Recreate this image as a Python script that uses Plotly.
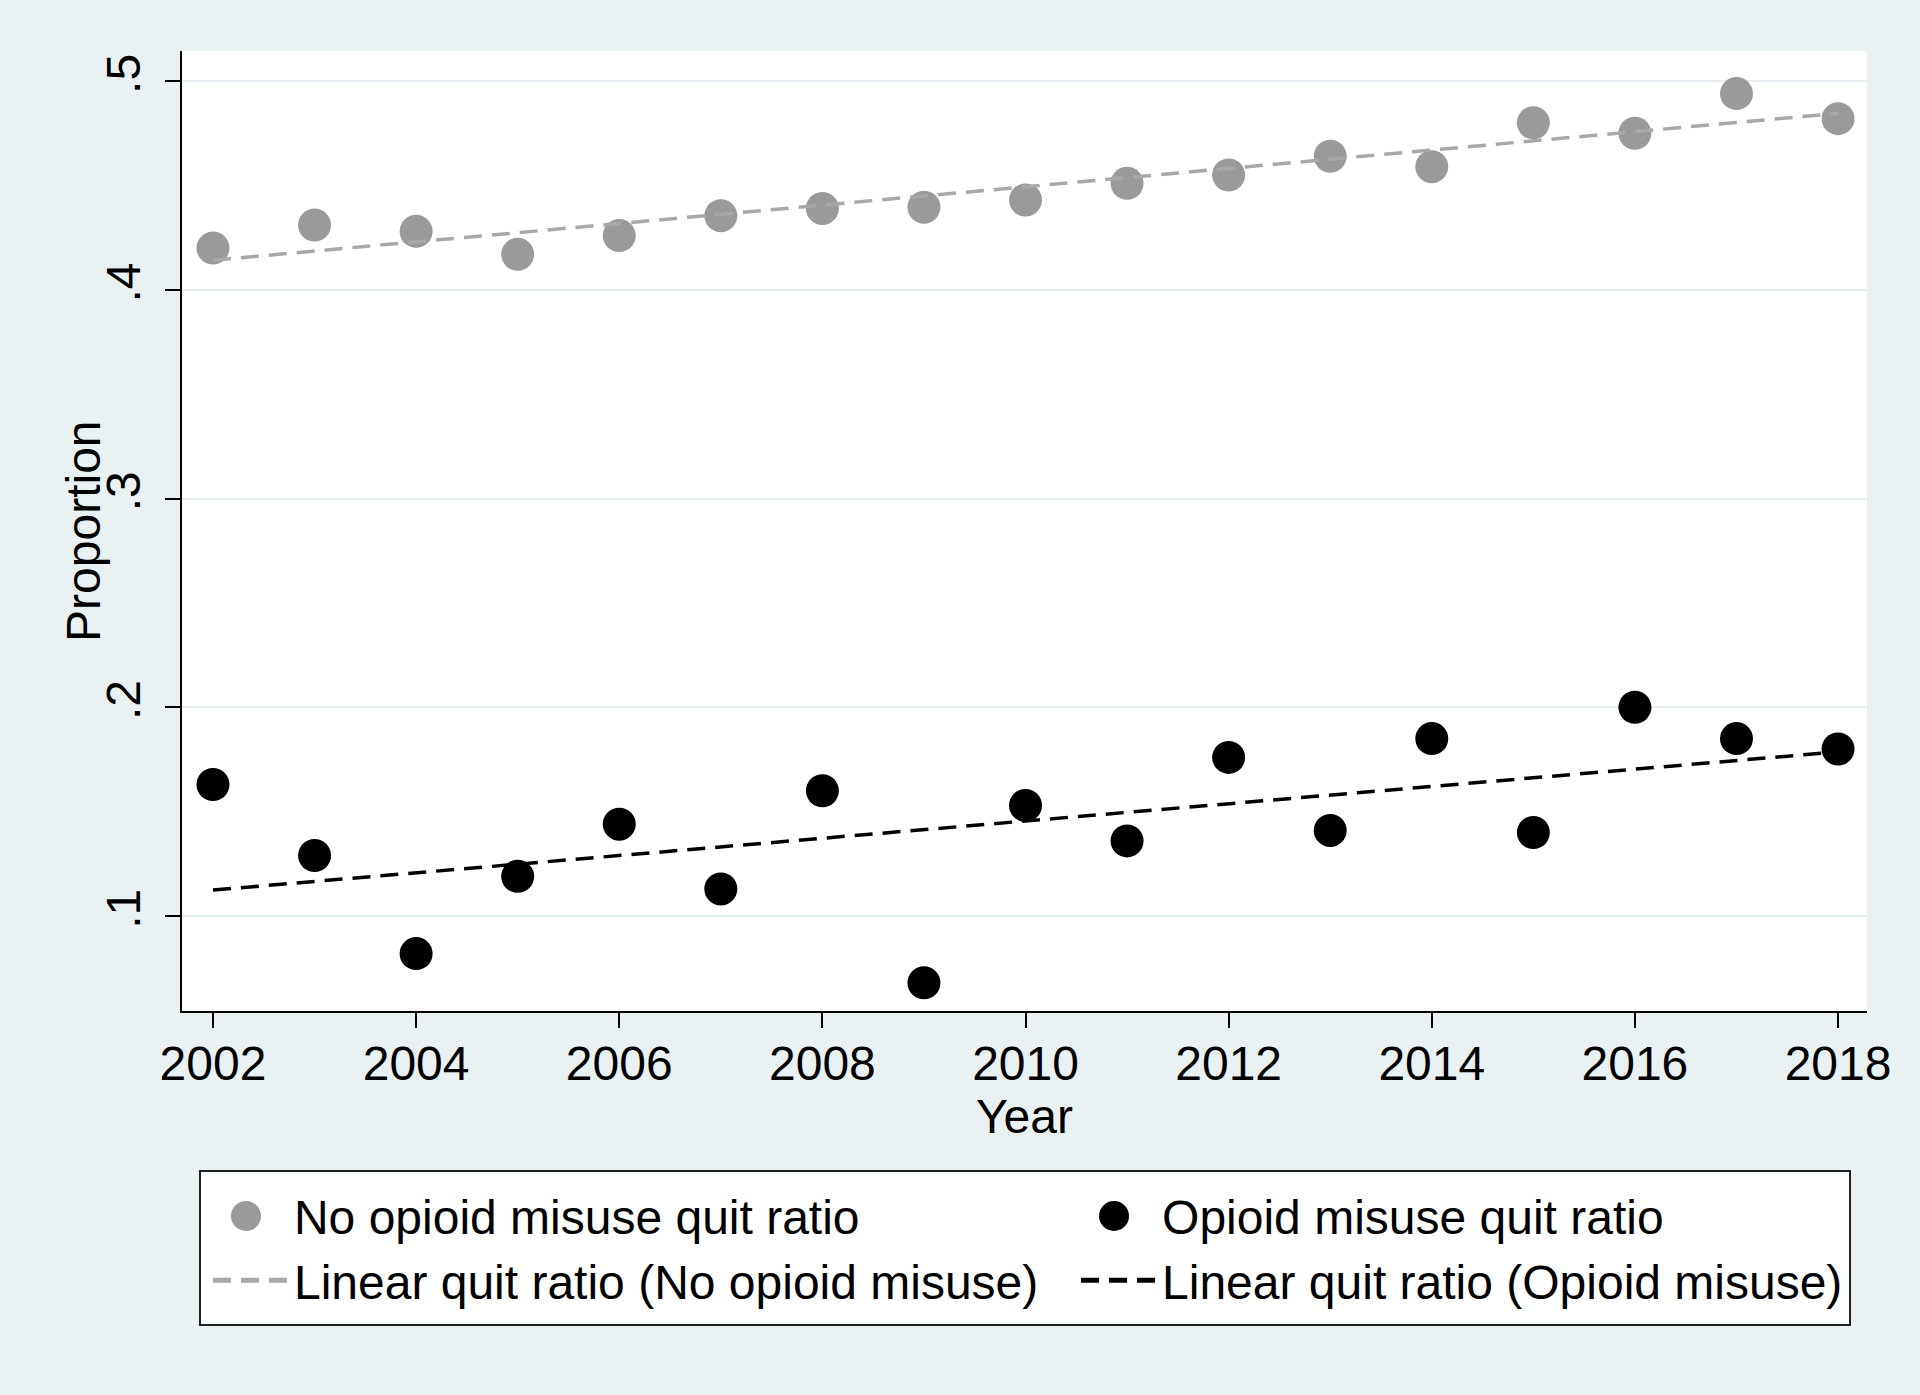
import numpy as np
import plotly.graph_objects as go

years = [2002, 2003, 2004, 2005, 2006, 2007, 2008, 2009, 2010,
         2011, 2012, 2013, 2014, 2015, 2016, 2017, 2018]
no_opioid = [0.420, 0.431, 0.428, 0.417, 0.426, 0.4355, 0.439, 0.4396, 0.443,
             0.451, 0.455, 0.464, 0.459, 0.480, 0.475, 0.494, 0.482]
opioid = [0.163, 0.129, 0.082, 0.119, 0.144, 0.113, 0.160, 0.068, 0.153,
          0.136, 0.176, 0.141, 0.185, 0.140, 0.200, 0.185, 0.180]
x_ticks = [2002, 2004, 2006, 2008, 2010, 2012, 2014, 2016, 2018]
y_ticks = [0.1, 0.2, 0.3, 0.4, 0.5]
y_ticktext = [".1", ".2", ".3", ".4", ".5"]

x = np.array(years, dtype=float)
fit_no = np.polyval(np.polyfit(x, no_opioid, 1), x)
fit_op = np.polyval(np.polyfit(x, opioid, 1), x)

GRAY = "#9a9a9a"
BG = "#e9f1f3"
FONT = "Liberation Sans, Arial, Helvetica, sans-serif"

fig = go.Figure()
fig.add_trace(go.Scatter(x=years, y=no_opioid, mode="markers",
                         name="No opioid misuse quit ratio", legend="legend",
                         marker=dict(color=GRAY, size=33)))
fig.add_trace(go.Scatter(x=years, y=opioid, mode="markers",
                         name="Opioid misuse quit ratio", legend="legend2",
                         marker=dict(color="black", size=33)))
fig.add_trace(go.Scatter(x=years, y=fit_no, mode="lines",
                         name="Linear quit ratio (No opioid misuse)", legend="legend",
                         line=dict(color="#a8a8a8", width=3.5, dash="18px,10px")))
fig.add_trace(go.Scatter(x=years, y=fit_op, mode="lines",
                         name="Linear quit ratio (Opioid misuse)", legend="legend2",
                         line=dict(color="black", width=3.5, dash="18px,10px")))

legend_common = dict(
    orientation="v", yanchor="top", xanchor="left",
    bgcolor="rgba(0,0,0,0)", borderwidth=0,
    font=dict(family=FONT, size=48, color="black"),
    itemwidth=76, indentation=0, traceorder="normal",
    itemsizing="constant",
)

def legend_dot(cx, cy, color):
    # enlarged legend symbol (plotly caps legend marker size)
    return dict(type="circle", xref="paper", yref="paper",
                xsizemode="pixel", ysizemode="pixel",
                xanchor=(cx - 182) / 1685, yanchor=(1011 - cy) / 960,
                x0=-15, x1=15, y0=-15, y1=15,
                fillcolor=color, line=dict(width=0), layer="above")

fig.update_layout(
    width=1920, height=1395, autosize=False,
    margin=dict(l=182, r=53, t=51, b=384, autoexpand=False),
    paper_bgcolor=BG,
    plot_bgcolor="white",
    font=dict(family=FONT, size=48, color="black"),
    showlegend=True,
    legend=dict(x=0.0154, y=-0.173, **legend_common),
    legend2=dict(x=0.5306, y=-0.173, **legend_common),
    shapes=[
        dict(type="rect", xref="paper", yref="paper",
             x0=0.01068, x1=0.98991, y0=-0.32708, y1=-0.1667,
             fillcolor="white", line=dict(color="#222222", width=2),
             layer="above"),
        legend_dot(246, 1216, GRAY),
        legend_dot(1114, 1216, "black"),
    ],
    annotations=[dict(
        text="Proportion", textangle=-90,
        xref="paper", yref="paper", x=-0.0588, y=0.5,
        xanchor="center", yanchor="middle", showarrow=False,
        font=dict(family=FONT, size=48, color="black"),
    )],
)
fig.update_xaxes(
    range=[2001.695, 2018.285],
    tickmode="array", tickvals=x_ticks,
    ticks="outside", ticklen=15, tickwidth=2, tickcolor="black",
    ticklabelstandoff=-6,
    showline=True, linecolor="black", linewidth=2,
    showgrid=False, zeroline=False, automargin=False,
    tickfont=dict(size=48),
    title=dict(text="Year", font=dict(size=48), standoff=6),
)
fig.update_yaxes(
    range=[0.0545, 0.5144],
    tickmode="array", tickvals=y_ticks, ticktext=y_ticktext,
    tickangle=-90, ticklabelstandoff=6,
    ticks="outside", ticklen=15, tickwidth=2, tickcolor="black",
    showline=True, linecolor="black", linewidth=2,
    showgrid=True, gridcolor="#e6edf0", gridwidth=2, zeroline=False,
    automargin=False,
    tickfont=dict(size=48),
)

fig.write_html(
    "out.html",
    config={"displayModeBar": False},
    post_script="document.body.style.margin='0';document.body.style.background='%s';" % BG,
)
